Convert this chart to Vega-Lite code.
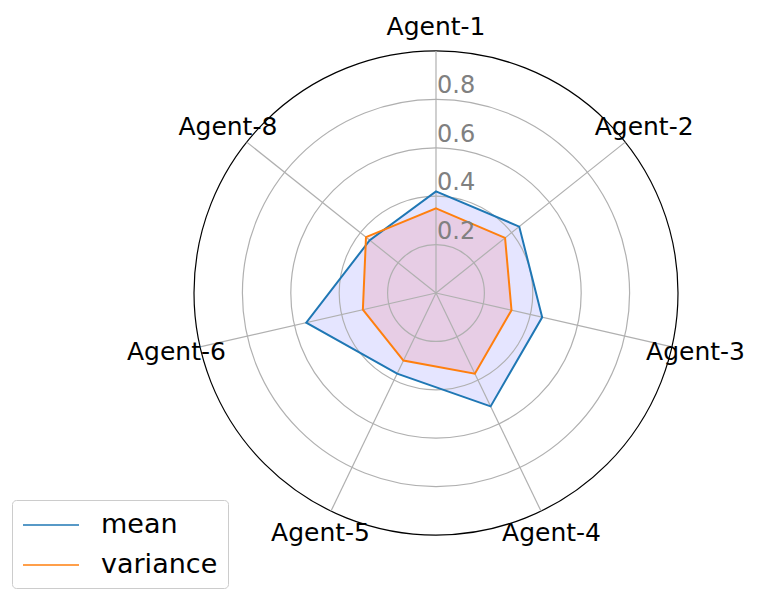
{
  "$schema": "https://vega.github.io/schema/vega-lite/v6.json",
  "width": 484,
  "height": 484,
  "autosize": {"type": "none"},
  "padding": {"left": 194, "top": 51, "right": 83, "bottom": 67},
  "background": "white",
  "config": {"view": {"stroke": null}, "font": "DejaVu Sans"},
  "datasets": {
    "agents": [
      {"agent": "Agent-1", "k": 0},
      {"agent": "Agent-2", "k": 1},
      {"agent": "Agent-3", "k": 2},
      {"agent": "Agent-4", "k": 3},
      {"agent": "Agent-5", "k": 4},
      {"agent": "Agent-6", "k": 5},
      {"agent": "Agent-8", "k": 6}
    ],
    "values": [
      {"agent": "Agent-1", "k": 0, "series": "mean", "value": 0.42},
      {"agent": "Agent-2", "k": 1, "series": "mean", "value": 0.44},
      {"agent": "Agent-3", "k": 2, "series": "mean", "value": 0.45},
      {"agent": "Agent-4", "k": 3, "series": "mean", "value": 0.52},
      {"agent": "Agent-5", "k": 4, "series": "mean", "value": 0.37},
      {"agent": "Agent-6", "k": 5, "series": "mean", "value": 0.55},
      {"agent": "Agent-8", "k": 6, "series": "mean", "value": 0.35},
      {"agent": "Agent-1", "k": 0, "series": "variance", "value": 0.35},
      {"agent": "Agent-2", "k": 1, "series": "variance", "value": 0.365},
      {"agent": "Agent-3", "k": 2, "series": "variance", "value": 0.32},
      {"agent": "Agent-4", "k": 3, "series": "variance", "value": 0.37},
      {"agent": "Agent-5", "k": 4, "series": "variance", "value": 0.31},
      {"agent": "Agent-6", "k": 5, "series": "variance", "value": 0.31},
      {"agent": "Agent-8", "k": 6, "series": "variance", "value": 0.37}
    ],
    "rings": [
      {"r": 0.2, "label": "0.2", "kind": "grid"},
      {"r": 0.4, "label": "0.4", "kind": "grid"},
      {"r": 0.6, "label": "0.6", "kind": "grid"},
      {"r": 0.8, "label": "0.8", "kind": "grid"},
      {"r": 1.0, "label": "", "kind": "spine"}
    ]
  },
  "layer": [
    {
      "data": {"name": "values"},
      "transform": [
        {"filter": "datum.series === 'mean'"},
        {"calculate": "datum.value * sin(datum.k * 2 * PI / 7)", "as": "px"},
        {"calculate": "datum.value * cos(datum.k * 2 * PI / 7)", "as": "py"}
      ],
      "mark": {"type": "line", "interpolate": "linear-closed", "fill": "blue", "fillOpacity": 0.1, "strokeWidth": 0, "strokeOpacity": 0},
      "encoding": {
        "x": {"field": "px", "type": "quantitative", "scale": {"domain": [-1, 1], "nice": false, "zero": false}, "axis": null},
        "y": {"field": "py", "type": "quantitative", "scale": {"domain": [-1, 1], "nice": false, "zero": false}, "axis": null},
        "order": {"field": "k", "type": "quantitative"}
      }
    },
    {
      "data": {"name": "values"},
      "transform": [
        {"filter": "datum.series === 'variance'"},
        {"calculate": "datum.value * sin(datum.k * 2 * PI / 7)", "as": "px"},
        {"calculate": "datum.value * cos(datum.k * 2 * PI / 7)", "as": "py"}
      ],
      "mark": {"type": "line", "interpolate": "linear-closed", "fill": "red", "fillOpacity": 0.1, "strokeWidth": 0, "strokeOpacity": 0},
      "encoding": {
        "x": {"field": "px", "type": "quantitative", "scale": {"domain": [-1, 1], "nice": false, "zero": false}, "axis": null},
        "y": {"field": "py", "type": "quantitative", "scale": {"domain": [-1, 1], "nice": false, "zero": false}, "axis": null},
        "order": {"field": "k", "type": "quantitative"}
      }
    },
    {
      "data": {"name": "rings"},
      "mark": {"type": "point", "shape": "circle", "filled": false, "opacity": 1, "strokeWidth": 1.2},
      "encoding": {
        "x": {"datum": 0, "type": "quantitative", "scale": {"domain": [-1, 1], "nice": false, "zero": false}, "axis": null},
        "y": {"datum": 0, "type": "quantitative", "scale": {"domain": [-1, 1], "nice": false, "zero": false}, "axis": null},
        "size": {"field": "r", "type": "quantitative", "scale": {"type": "pow", "exponent": 2, "domain": [0, 1], "range": [0, 234256]}, "legend": null},
        "stroke": {"field": "kind", "type": "nominal", "scale": {"domain": ["grid", "spine"], "range": ["#b0b0b0", "#000000"]}, "legend": null}
      }
    },
    {
      "data": {"name": "agents"},
      "transform": [
        {"calculate": "sin(datum.k * 2 * PI / 7)", "as": "sx"},
        {"calculate": "cos(datum.k * 2 * PI / 7)", "as": "sy"}
      ],
      "mark": {"type": "rule", "color": "#b0b0b0", "strokeWidth": 1.2},
      "encoding": {
        "x": {"field": "sx", "type": "quantitative", "scale": {"domain": [-1, 1], "nice": false, "zero": false}, "axis": null},
        "y": {"field": "sy", "type": "quantitative", "scale": {"domain": [-1, 1], "nice": false, "zero": false}, "axis": null},
        "x2": {"datum": 0},
        "y2": {"datum": 0}
      }
    },
    {
      "data": {"name": "values"},
      "transform": [
        {"calculate": "datum.value * sin(datum.k * 2 * PI / 7)", "as": "px"},
        {"calculate": "datum.value * cos(datum.k * 2 * PI / 7)", "as": "py"}
      ],
      "mark": {"type": "line", "interpolate": "linear-closed", "strokeWidth": 2},
      "encoding": {
        "x": {"field": "px", "type": "quantitative", "scale": {"domain": [-1, 1], "nice": false, "zero": false}, "axis": null},
        "y": {"field": "py", "type": "quantitative", "scale": {"domain": [-1, 1], "nice": false, "zero": false}, "axis": null},
        "order": {"field": "k", "type": "quantitative"},
        "color": {
          "field": "series", "type": "nominal",
          "scale": {"domain": ["mean", "variance"], "range": ["#1f77b4", "#ff7f0e"]},
          "legend": {
            "orient": "none", "legendX": -182, "legendY": 449, "title": null,
            "symbolType": "M-1,0H3", "symbolSize": 784, "symbolStrokeWidth": 1.5,
            "labelFontSize": 27, "labelFont": "DejaVu Sans", "labelColor": "black",
            "padding": 10, "rowPadding": 12, "labelOffset": 49,
            "strokeColor": "#cccccc", "fillColor": "white", "cornerRadius": 4
          }
        }
      }
    },
    {
      "data": {"name": "rings"},
      "transform": [{"filter": "datum.r < 1"}],
      "mark": {"type": "text", "align": "left", "baseline": "middle", "dy": -13, "dx": 1, "fontSize": 24, "color": "#808080", "font": "DejaVu Sans"},
      "encoding": {
        "x": {"datum": 0, "type": "quantitative", "scale": {"domain": [-1, 1], "nice": false, "zero": false}, "axis": null},
        "y": {"field": "r", "type": "quantitative", "scale": {"domain": [-1, 1], "nice": false, "zero": false}, "axis": null},
        "text": {"field": "label"}
      }
    },
    {
      "data": {"name": "agents"},
      "transform": [
        {"calculate": "1.1 * sin(datum.k * 2 * PI / 7)", "as": "lx"},
        {"calculate": "1.1 * cos(datum.k * 2 * PI / 7)", "as": "ly"}
      ],
      "mark": {"type": "text", "align": "center", "baseline": "middle", "fontSize": 25, "color": "black", "font": "DejaVu Sans"},
      "encoding": {
        "x": {"field": "lx", "type": "quantitative", "scale": {"domain": [-1, 1], "nice": false, "zero": false}, "axis": null},
        "y": {"field": "ly", "type": "quantitative", "scale": {"domain": [-1, 1], "nice": false, "zero": false}, "axis": null},
        "text": {"field": "agent"}
      }
    }
  ]
}
